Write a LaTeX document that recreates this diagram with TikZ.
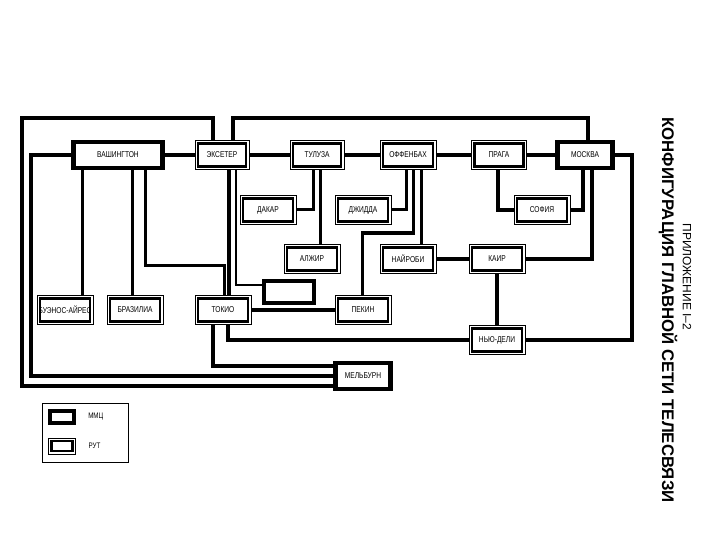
\documentclass[tikz,border=0pt]{standalone}
\usepackage{fontspec}
\setmainfont{Liberation Sans}
\newfontfamily\lblfont[FakeStretch=0.78]{Liberation Sans}
\usetikzlibrary{positioning}

\begin{document}
\begin{tikzpicture}[x=1pt,y=-1pt]
\tikzstyle{box}=[rectangle, draw, fill=white, inner sep=0pt, minimum width=56pt, minimum height=29pt, font=\lblfont\fontsize{8.5}{9}\selectfont]
\tikzstyle{mmc}=[box, line width=4.5pt, minimum width=55pt, minimum height=26pt]
\tikzstyle{rut}=[box, line width=1pt, path picture={\draw[line width=2.2pt] ([shift={(3pt,-3pt)}]path picture bounding box.north west) rectangle ([shift={(-3pt,3pt)}]path picture bounding box.south east);}]
\tikzstyle{trunk}=[line width=4.5pt]
\tikzstyle{feed}=[line width=3pt]
\tikzstyle{spur}=[line width=1.3pt]
\path[fill=white] (0,0) rectangle (720,540);
% top row
\node[mmc, minimum width=89pt] (wash) at (118,155) {ВАШИНГТОН};
\node[rut, minimum width=54pt] (exe) at (222,155) {ЭКСЕТЕР};
\node[rut, minimum width=54pt] (tul) at (317,155) {ТУЛУЗА};
\node[rut] (off) at (408,155) {ОФФЕНБАХ};
\node[rut, minimum width=55pt] (pra) at (499,155) {ПРАГА};
\node[mmc] (mos) at (585,155) {МОСКВА};
% second and third rows
\node[rut] (dak) at (268,210) {ДАКАР};
\node[rut] (dzh) at (363,210) {ДЖИДДА};
\node[rut] (sof) at (542,210) {СОФИЯ};
\node[rut] (alzh) at (312,259) {АЛЖИР};
\node[rut] (nai) at (408,259) {НАЙРОБИ};
\node[rut] (kai) at (497,259) {КАИР};
% bottom rows
\node[rut] (bue) at (65,310) {БУЭНОС-АЙРЕС};
\node[rut] (bra) at (135,310) {БРАЗИЛИА};
\node[rut] (tok) at (223,310) {ТОКИО};
\node[mmc, minimum width=50pt, minimum height=22pt] (emp) at (289,292) {};
\node[rut] (pek) at (363,310) {ПЕКИН};
\node[rut] (ndel) at (497,340) {НЬЮ-ДЕЛИ};
\node[mmc] (mel) at (363,376) {МЕЛЬБУРН};
% trunks
\foreach \i/\j in {wash/exe,exe/tul,tul/off,off/pra,pra/mos,nai/kai,tok/pek}{\draw[trunk] (\i.east) -- (\j.west);}
\draw[trunk] (kai.south) -- (ndel.north);
\draw[trunk] (exe.north -| 213,0) -- (213,118) -- (22,118) -- (22,386) -- (mel.west |- 0,386);
\draw[trunk] (exe.north -| 233,0) -- (233,118) -| (mos.north -| 588,0);
\draw[trunk] (wash.west) -| (31,376) -- (mel.west);
\draw[trunk] (mos.east) -| (632,340) -- (ndel.east);
\draw[trunk] (exe.south -| 229,0) -- (tok.north -| 229,0);
\draw[trunk] (tok.south -| 228,0) |- (ndel.west);
\draw[trunk] (tok.south -| 213,0) |- (mel.west |- 0,366);
\draw[trunk] (mos.south -| 592,0) |- (kai.east);
\draw[trunk] (mos.south -| 583,0) |- (sof.east);
\draw[trunk] (pra.south -| 498,0) |- (sof.west);
% feeders
\draw[feed] (wash.south -| 82,0) -- (bue.north -| 82,0);
\draw[feed] (wash.south -| 132,0) -- (bra.north -| 132,0);
\draw[feed] (wash.south -| 145,0) |- (224,265) -- (tok.north -| 224,0);
\draw[feed] (tul.south -| 313,0) |- (dak.east);
\draw[feed] (tul.south -| 320,0) -- (alzh.north -| 320,0);
\draw[feed] (off.south -| 406,0) |- (dzh.east);
\draw[feed] (off.south -| 413,0) |- (362,233) -- (pek.north -| 362,0);
\draw[feed] (off.south -| 421,0) -- (nai.north -| 421,0);
\draw[spur] (exe.south -| 236,0) |- (emp.west |- 0,285);
% legend
\draw[line width=0.8pt] (42,403) rectangle (128,462);
\node[mmc, minimum width=24pt, minimum height=12pt, line width=3.5pt] (kmmc) at (62,417) {};
\node[rut, minimum width=27pt, minimum height=16pt] (krut) at (62,446) {};
\node[right=9pt of kmmc, font=\lblfont\fontsize{8}{9}\selectfont] (tmmc) {ММЦ};
\node[right=9pt of krut, font=\lblfont\fontsize{8}{9}\selectfont] (trut) {РУТ};
% title
\node[rotate=-90, font=\fontsize{12}{14}\selectfont] (app) at (687,277) {ПРИЛОЖЕНИЕ I–2};
\node[rotate=-90, font=\bfseries\fontsize{16.8}{18}\selectfont] (ttl) at (668,310) {КОНФИГУРАЦИЯ ГЛАВНОЙ СЕТИ ТЕЛЕСВЯЗИ};
\end{tikzpicture}
\end{document}
